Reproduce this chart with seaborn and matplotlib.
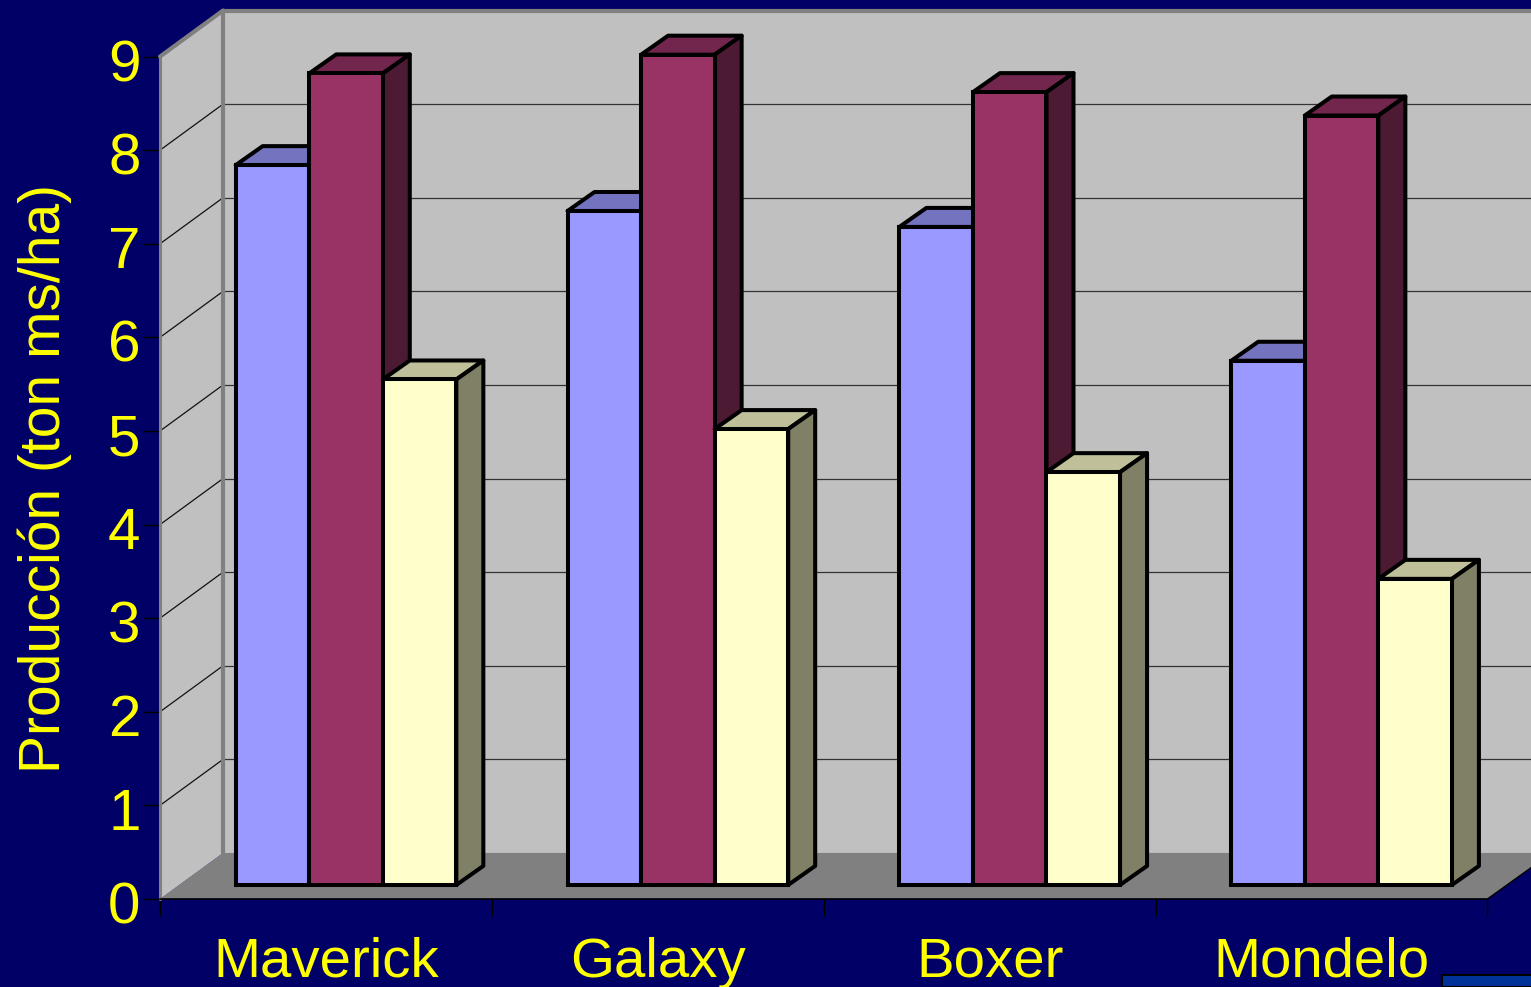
import matplotlib
matplotlib.use('Agg')
import matplotlib.pyplot as plt
from matplotlib.patches import Polygon, Rectangle
from matplotlib.transforms import ScaledTranslation
import pandas as pd
import seaborn as sns

varieties = ['Maverick', 'Galaxy', 'Boxer', 'Mondelo']
corte_1 = [7.69, 7.20, 7.03, 5.60]
corte_2 = [8.67, 8.87, 8.47, 8.22]
corte_3 = [5.40, 4.87, 4.41, 3.27]
series_names = ['Serie 1', 'Serie 2', 'Serie 3']
y_ticks = [0, 1, 2, 3, 4, 5, 6, 7, 8, 9]

front_colors = ['#9999FF', '#993366', '#FFFFCC']
top_colors = ['#7373BF', '#73264D', '#BFBF99']
side_colors = ['#4D4D80', '#4D1A33', '#808066']
navy = '#000066'
yellow = '#FFFF00'

sns.set_theme(style='white')
plt.rcParams['font.family'] = ['Liberation Sans', 'DejaVu Sans']

df = pd.DataFrame({
    'variety': varieties * 3,
    'serie': [s for s in series_names for _ in varieties],
    'value': corte_1 + corte_2 + corte_3,
})

fig = plt.figure(figsize=(15.315, 9.875), dpi=100, facecolor=navy)
ax = fig.add_axes([160 / 1531, 88 / 987, 1327 / 1531, 842 / 987])
ax.set_facecolor('none')

sns.barplot(data=df, x='variety', y='value', hue='serie', palette=front_colors,
            width=0.665, saturation=1, edgecolor='black', linewidth=2.9,
            legend=False, ax=ax)
ax.set_xlim(-0.5, 3.5)
ax.set_ylim(0, 9)

# one pixel in data units
px = 4 / 1327
py = 9 / 842

# 3d walls, drawn behind everything
wx = 63 * px
wy = 46 * py
xl = -0.5 + wx
xr = 3.5 + 46 * px
ax.add_patch(Rectangle((xl, wy), xr - xl, 9, fc='#C0C0C0', ec='none', zorder=0.5, clip_on=False))
ax.add_patch(Polygon([(-0.5, 0), (xl, wy), (xr, wy), (xr, 33 * py), (3.5, 0)],
                     fc='#808080', ec='none', zorder=0.6, clip_on=False))
ax.add_patch(Polygon([(-0.5, 0), (-0.5, 9), (xl, 9 + wy), (xl, wy)],
                     fc='#C0C0C0', ec='none', zorder=0.7, clip_on=False))
for v in y_ticks[1:-1]:
    ax.plot([xl, xr], [v + wy, v + wy], color='#333333', lw=0.9, zorder=0.8, clip_on=False)
for v in y_ticks[1:]:
    ax.plot([-0.5, xl], [v, v + wy], color='#111111', lw=0.9, zorder=0.8, clip_on=False)
ax.plot([xl, xl, xr], [wy, 9 + wy, 9 + wy], color='#808080', lw=3, zorder=0.9, clip_on=False)
ax.plot([-0.5, xl], [9, 9 + wy], color='#808080', lw=3, zorder=0.9, clip_on=False)
ax.plot([-0.5, -0.5], [0, 9], color='#808080', lw=2.2, zorder=0.9, clip_on=False)
ax.plot([3.5, xr], [0, 33 * py], color='black', lw=1, zorder=1, clip_on=False)

# push the bars back on the floor and add their top and side faces
fx = 20 * px
fy = 14 * py
dx = 27 * px
dy = 19 * py
for i, bars in enumerate(ax.containers):
    for bar in bars:
        x0 = bar.get_x() + fx
        x1 = x0 + bar.get_width()
        h = bar.get_height()
        bar.set_x(x0)
        bar.set_y(fy)
        bar.set_zorder(4 + 2 * i)
        bar.set_clip_on(False)
        bar.set_joinstyle('miter')
        top = fy + h
        ax.add_patch(Polygon([(x0, top), (x0 + dx, top + dy), (x1 + dx, top + dy), (x1, top)],
                             fc=top_colors[i], ec='black', lw=2.9, joinstyle='round',
                             zorder=3 + 2 * i, clip_on=False))
        ax.add_patch(Polygon([(x1, fy), (x1 + dx, fy + dy), (x1 + dx, top + dy), (x1, top)],
                             fc=side_colors[i], ec='black', lw=2.9, joinstyle='round',
                             zorder=3 + 2 * i, clip_on=False))

sns.despine(ax=ax, left=True, top=True, right=True)
ax.spines['bottom'].set_color('black')
ax.spines['bottom'].set_linewidth(1.2)
ax.spines['bottom'].set_zorder(2)

ax.set_yticks(y_ticks)
ax.set_yticklabels([str(v) for v in y_ticks])
ax.set_xticks([-0.5, 0.5, 1.5, 2.5, 3.5], minor=True)
ax.set_xticks(range(4))
ax.set_xticklabels(varieties)
ax.tick_params(axis='y', which='major', left=True, length=12, width=1, color='black',
               labelsize=42, labelcolor=yellow, pad=2)
ax.tick_params(axis='x', which='major', bottom=False, labelsize=40.6, labelcolor=yellow, pad=21)
ax.tick_params(axis='x', which='minor', bottom=True, length=12, width=1, color='black')
ax.set_xlabel('')
ax.set_ylabel('Producción (ton ms/ha)', fontsize=41, color=yellow, labelpad=26)

# digits sit a little below their ticks in the original
nudge = ScaledTranslation(0, -3 / 100, fig.dpi_scale_trans)
for label in ax.get_yticklabels():
    label.set_transform(label.get_transform() + nudge)

# little blue box cut by the corner of the slide
fig.add_artist(Rectangle((1442 / 1531, 0), 95 / 1531, 12 / 987, transform=fig.transFigure,
                         fc='#003399', ec='black', lw=1.5))

fig.savefig('out.png', dpi=100, facecolor=navy)
